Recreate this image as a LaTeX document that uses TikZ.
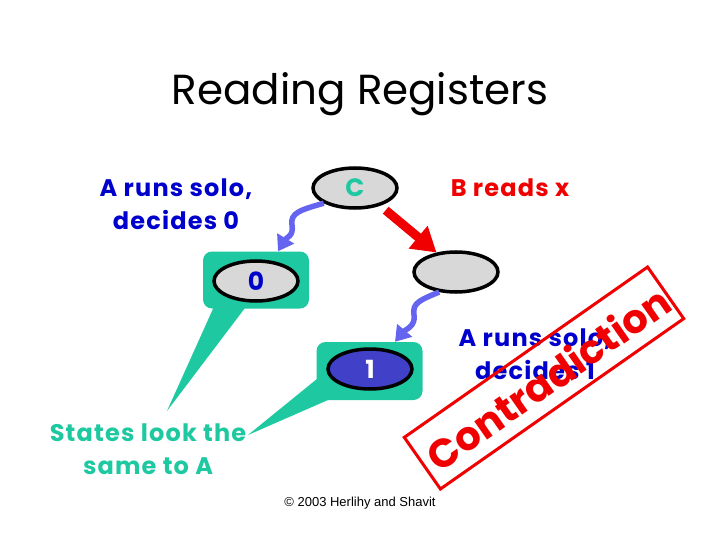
\documentclass[tikz,border=0pt]{standalone}
\usepackage{fontspec}
\setmainfont{Poppins}
\newfontfamily\copyfont{Liberation Sans}
\usetikzlibrary{arrows.meta,calc,shapes.geometric}
\definecolor{tgreen}{RGB}{30,200,160}
\definecolor{tblue}{RGB}{0,0,204}
\definecolor{wblue}{RGB}{100,100,240}
\definecolor{lgray}{RGB}{216,216,216}
\definecolor{dblue}{RGB}{64,64,200}
\definecolor{tred}{RGB}{240,0,0}
\begin{document}
\begin{tikzpicture}[x=1pt,y=-1pt,
 statebox/.style={fill=tgreen, rounded corners=9pt, minimum width=106pt, minimum height=57pt, inner sep=0},
 stateell/.style={ellipse, draw=black, line width=3.5pt, fill=lgray, minimum width=84pt, minimum height=40pt, inner sep=0, font=\fontsize{25}{25}\bfseries\selectfont},
 wavy/.style={wblue, line width=5.5pt, -{Triangle[width=19pt,length=15pt]}},
 lbl/.style={font=\fontsize{24}{33}\bfseries\addfontfeature{LetterSpace=5}\selectfont, align=center},
]
\useasboundingbox (0,0) rectangle (720,540);
\node (title) at (360,94) {\fontsize{42}{44}\selectfont Reading Registers};
% callout tails
\fill[tgreen] (217,300) -- (251,300) -- (167,411) -- cycle;
\fill[tgreen] (328,370) -- (328,400) -- (248,435) -- cycle;
\node[statebox] (b0) at (256,280) {};
\node[stateell, text=tblue] (n0) at (256,281) {0};
\node[statebox, minimum height=58pt] (b1) at (369.5,371) {};
\node[stateell, fill=dblue, text=white] (n1) at (370,369) {1};
\node[stateell, text=tgreen] (c) at (355,188) {C};
\node[stateell] (e) at (456,272) {};
% connectors
\draw[wavy] (c.206) .. controls (300,210) and (290,213) .. (292,225) .. controls (294,236) and (286,238) .. ($(b0.north)+(22,0)$);
\draw[wavy] (e.230) .. controls (420,300) and (412,303) .. (414,315) .. controls (416,326) and (405,330) .. ($(b1.north)+(25.5,0)$);
\draw[tred, line width=9pt, -{Triangle[width=28pt,length=24pt]}, shorten <=7pt] (c.-35) -- (e.135);
% labels
\node[lbl, text=tblue] (a0) at (176,204) {A runs solo,\\decides 0};
\node[lbl, text=tred] (br) at (510,188) {B reads x};
\node[lbl, text=tblue] (a1) at (535,354) {A runs solo,\\decides 1};
\node[lbl, text=tgreen] (st) at (148,449) {States look the\\same to A};
\node (copy) at (360,503) {\copyfont\fontsize{13}{14}\selectfont © 2003 Herlihy and Shavit};
% contradiction stamp
\node[draw=tred, line width=3pt, rotate=35, minimum width=297pt, minimum height=63pt, inner sep=0] (stamp) at (544,378) {};
\node[rotate=35, text=tred, font=\fontsize{40}{40}\bfseries\selectfont, inner sep=0] (con) at (548,378) {Contradiction};
\end{tikzpicture}
\end{document}
